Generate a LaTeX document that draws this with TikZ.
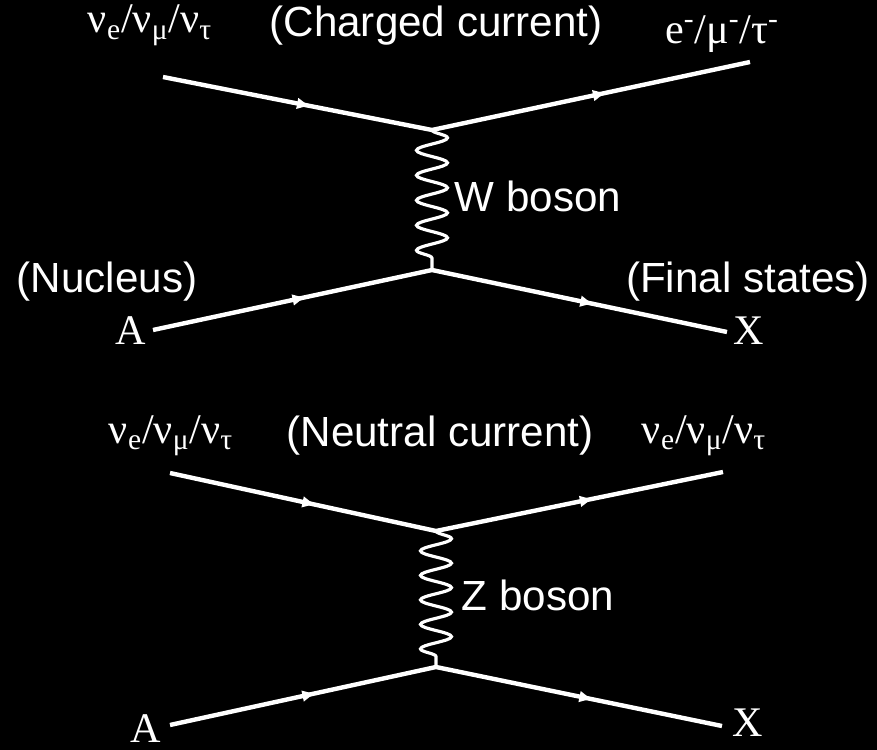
\documentclass[tikz,border=0pt]{standalone}
\usepackage{fontspec}
\setmainfont{Liberation Serif}
\setsansfont{Liberation Sans}
\usetikzlibrary{arrows.meta,decorations.pathmorphing,decorations.markings,positioning}

\begin{document}
\begin{tikzpicture}[
  x=0.02cm, y=-0.02cm,
  font=\fontsize{24}{28}\selectfont,
  lbl/.style={text=white, inner sep=0pt, anchor=base},
  sanslbl/.style={lbl, font=\sffamily\fontsize{24}{28}\selectfont},
  fermion/.style={white, line width=2.5pt, postaction={decorate},
    decoration={markings, mark=at position 0.55 with {\arrow{Latex[length=0.28cm,width=0.24cm]}}}},
  boson/.style={white, line width=1.8pt, decorate, decoration={snake, amplitude=0.31cm, segment length=0.5cm}},
]
\fill[black] (0,0) rectangle (877,750);
\useasboundingbox (0,0) rectangle (877,750);

% charged current
\coordinate (nuin1) at (163,77);
\coordinate (wtop) at (432,130);
\coordinate (lepout) at (750,62);
\coordinate (wbot) at (432,270);
\coordinate (nucA1) at (153,330);
\coordinate (finX1) at (727,332);

\node[lbl] (nulbl1) at (150,33) {ν\textsubscript{e}/ν\textsubscript{μ}/ν\textsubscript{τ}};
\node[sanslbl] (cclbl) at (436,37) {(Charged current)};
\node[lbl] (leplbl) at (722,44) {e\textsuperscript{-}/μ\textsuperscript{-}/τ\textsuperscript{-}};
\node[sanslbl] (wlbl) at (538,212) {W boson};
\node[sanslbl] (nuclbl) at (107,293) {(Nucleus)};
\node[lbl] (albl1) at (131,345) {A};
\node[sanslbl] (finlbl) at (748,293) {(Final states)};
\node[lbl] (xlbl1) at (749,345) {X};

\draw[fermion] (nuin1) -- (wtop);
\draw[fermion] (wtop) -- (lepout);
\draw[boson] (wtop) -- (wbot);
\draw[fermion] (nucA1) -- (wbot);
\draw[fermion] (wbot) -- (finX1);

% neutral current
\coordinate (nuin2) at (170,473);
\coordinate (ztop) at (436,531);
\coordinate (nuout2) at (723,472);
\coordinate (zbot) at (436,667);
\coordinate (nucA2) at (170,725);
\coordinate (finX2) at (722,726);

\node[lbl] (nulbl2) at (171,443) {ν\textsubscript{e}/ν\textsubscript{μ}/ν\textsubscript{τ}};
\node[sanslbl] (nclbl) at (440,446) {(Neutral current)};
\node[lbl] (nulbl3) at (704,443) {ν\textsubscript{e}/ν\textsubscript{μ}/ν\textsubscript{τ}};
\node[sanslbl] (zlbl) at (538,610) {Z boson};
\node[lbl] (albl2) at (146,742) {A};
\node[lbl] (xlbl2) at (748,736) {X};

\draw[fermion] (nuin2) -- (ztop);
\draw[fermion] (ztop) -- (nuout2);
\draw[boson, decoration={segment length=0.49cm}] (ztop) -- (zbot);
\draw[fermion] (nucA2) -- (zbot);
\draw[fermion] (zbot) -- (finX2);
\end{tikzpicture}
\end{document}
